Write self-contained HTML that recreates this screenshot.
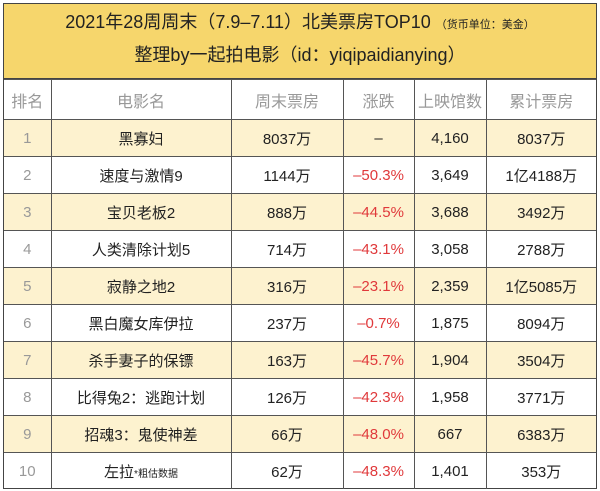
<!DOCTYPE html>
<html><head><meta charset="utf-8">
<style>
body{margin:0;width:600px;height:491px;background:#fff;font-family:"Liberation Sans","Noto Sans CJK SC",sans-serif;overflow:hidden}
#wrap{position:absolute;left:3px;top:3px;width:594px;height:486px;border:1px solid #444;box-sizing:border-box}
#title{height:75px;background:#f6d66c;border-bottom:1px solid #444;text-align:center;color:#222;font-size:18px;line-height:30px;padding-top:3px;box-sizing:border-box}
#title small{font-size:11px}
table{border-collapse:collapse;width:100%;table-layout:fixed}
td{border:1px solid #555;height:36px;text-align:center;font-size:15px;color:#222;padding:0}
tr td:first-child{border-left:none}
tr td:last-child{border-right:none}
tr:last-child td{border-bottom:none}
tr.h td{color:#999;font-size:16px;height:39px}
tr.y td{background:#fdf2cf}
td.r{color:#999}
td.n{color:#e0393b}
</style></head><body>
<div id="wrap">
<div id="title">2021年28周周末（7.9–7.11）北美票房TOP10 <small>（货币单位：美金）</small><br>整理by一起拍电影（id：yiqipaidianying）</div>
<table>
<colgroup><col style="width:47px"><col style="width:180px"><col style="width:112px"><col style="width:71px"><col style="width:72px"><col></colgroup>
<tr class="h"><td>排名</td><td>电影名</td><td>周末票房</td><td>涨跌</td><td>上映馆数</td><td>累计票房</td></tr>
<tr class="y"><td class="r">1</td><td>黑寡妇</td><td>8037万</td><td>–</td><td>4,160</td><td>8037万</td></tr>
<tr><td class="r">2</td><td>速度与激情9</td><td>1144万</td><td class="n">–50.3%</td><td>3,649</td><td>1亿4188万</td></tr>
<tr class="y"><td class="r">3</td><td>宝贝老板2</td><td>888万</td><td class="n">–44.5%</td><td>3,688</td><td>3492万</td></tr>
<tr><td class="r">4</td><td>人类清除计划5</td><td>714万</td><td class="n">–43.1%</td><td>3,058</td><td>2788万</td></tr>
<tr class="y"><td class="r">5</td><td>寂静之地2</td><td>316万</td><td class="n">–23.1%</td><td>2,359</td><td>1亿5085万</td></tr>
<tr><td class="r">6</td><td>黑白魔女库伊拉</td><td>237万</td><td class="n">–0.7%</td><td>1,875</td><td>8094万</td></tr>
<tr class="y"><td class="r">7</td><td>杀手妻子的保镖</td><td>163万</td><td class="n">–45.7%</td><td>1,904</td><td>3504万</td></tr>
<tr><td class="r">8</td><td>比得兔2：逃跑计划</td><td>126万</td><td class="n">–42.3%</td><td>1,958</td><td>3771万</td></tr>
<tr class="y"><td class="r">9</td><td>招魂3：鬼使神差</td><td>66万</td><td class="n">–48.0%</td><td>667</td><td>6383万</td></tr>
<tr><td class="r">10</td><td>左拉<span style="font-size:10px">*粗估数据</span></td><td>62万</td><td class="n">–48.3%</td><td>1,401</td><td>353万</td></tr>
</table>
</div>
</body></html>
